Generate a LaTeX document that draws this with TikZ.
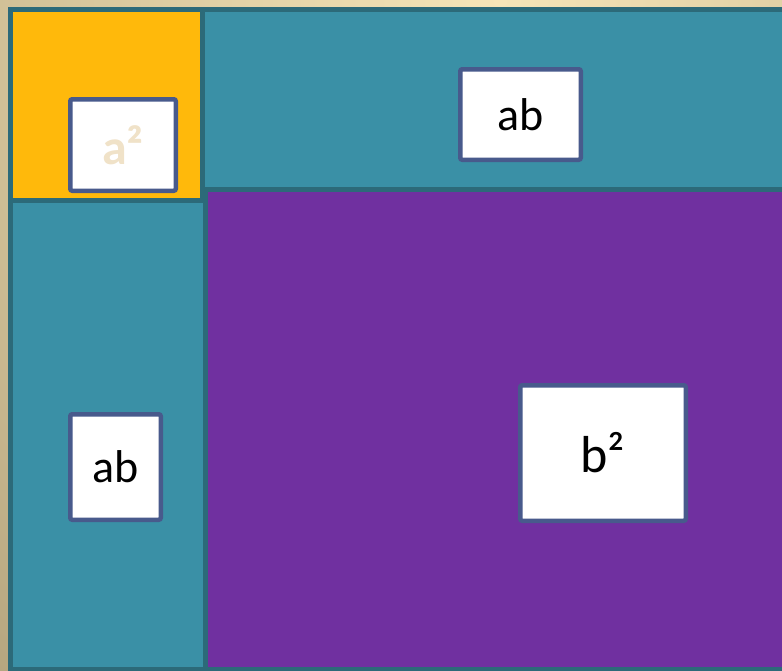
\documentclass[tikz,border=0pt]{standalone}
\usepackage{fontspec}
\setmainfont{Carlito}
\definecolor{bgtan}{RGB}{176,160,122}
\definecolor{bglight}{RGB}{246,229,184}
\definecolor{yel}{RGB}{255,185,11}
\definecolor{teal}{RGB}{58,144,166}
\definecolor{purp}{RGB}{112,48,160}
\definecolor{edge}{RGB}{44,106,121}
\definecolor{boxedge}{RGB}{72,90,140}
\definecolor{atext}{RGB}{240,226,200}
\tikzset{
  region/.style={draw=edge, line width=5pt},
  labelbox/.style={draw=boxedge, fill=white, line width=4.5pt, rounded corners=2pt, inner sep=0pt},
  lbl/.style={font=\fontsize{46}{50}\selectfont}
}
\begin{document}
\begin{tikzpicture}[x=1pt,y=-1pt]
\useasboundingbox (0,0) rectangle (782,670);
\clip (0,0) rectangle (782,670);
\shade[inner color=bglight, outer color=bgtan] (-450,-900) rectangle (1450,900);
\path[region, fill=yel] (10.5,9.5) rectangle (202.5,200.5);
\path[region, fill=teal] (202.5,9.5) rectangle (800,189.5);
\path[region, fill=teal] (10.5,200.5) rectangle (205.5,669.5);
\path[region, fill=purp] (205.5,189.5) rectangle (800,669.5);
\node[labelbox, minimum width=105.5pt, minimum height=91.5pt, text=atext, font=\fontsize{50}{54}\selectfont\bfseries] (asq) at (123,145) {a²};
\node[labelbox, lbl, minimum width=120.5pt, minimum height=90.5pt] (abtop) at (520.5,114.5) {\raisebox{-2pt}{ab}};
\node[labelbox, lbl, minimum width=90.5pt, minimum height=105.5pt] (ableft) at (115.5,467) {\raisebox{-5pt}{ab}};
\node[labelbox, minimum width=165.5pt, minimum height=135.5pt, font=\fontsize{52}{56}\selectfont] (bsq) at (603,453) {b²};
\end{tikzpicture}
\end{document}
